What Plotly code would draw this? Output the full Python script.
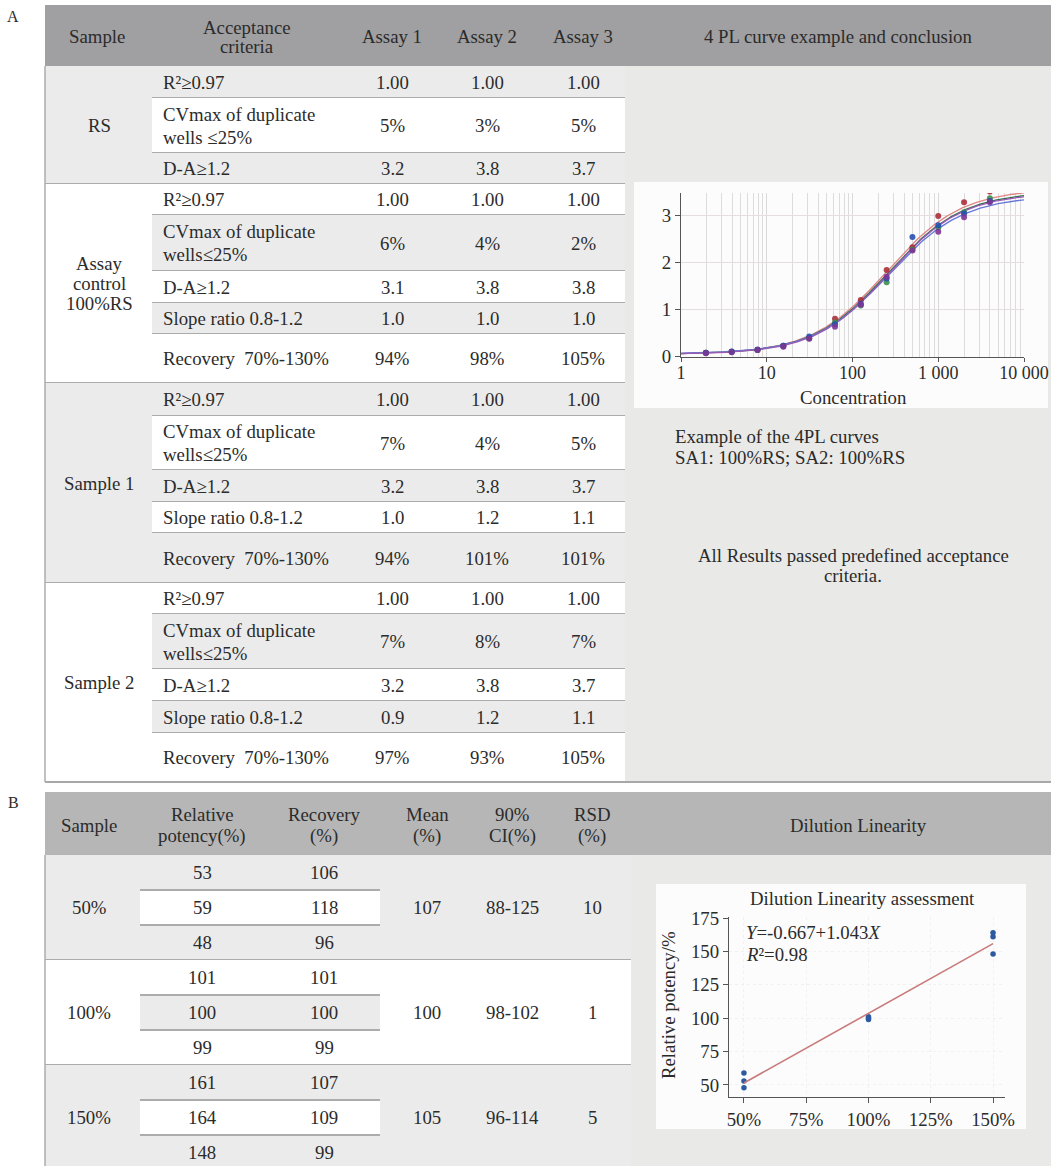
import numpy as np
import plotly.graph_objects as go

W, H = 1051, 1166
FONT = "Liberation Serif"
FS = 18.8
INK = "#2b2b2b"
HEAD_A = "#a09fa1"
HEAD_B = "#b6b6b6"
GRAY = "#ebebeb"
WHITE = "#ffffff"
PANEL = "#e9e9e7"
RULE = "#acacac"

# ---------------- data: panel A table ----------------
a_header = ["Sample", "Acceptance|criteria", "Assay 1", "Assay 2", "Assay 3"]
a_right_header = "4 PL curve example and conclusion"
a_samples = ["RS", "Assay|control|100%RS", "Sample 1", "Sample 2"]
a_criteria_rs = ["R²≥0.97", "CVmax of duplicate|wells ≤25%", "D-A≥1.2"]
a_criteria = ["R²≥0.97", "CVmax of duplicate|wells≤25%", "D-A≥1.2",
              "Slope ratio 0.8-1.2", "Recovery\u00a0 70%-130%"]
rs_values = [["1.00", "1.00", "1.00"], ["5%", "3%", "5%"], ["3.2", "3.8", "3.7"]]
ac_values = [["1.00", "1.00", "1.00"], ["6%", "4%", "2%"], ["3.1", "3.8", "3.8"],
             ["1.0", "1.0", "1.0"], ["94%", "98%", "105%"]]
s1_values = [["1.00", "1.00", "1.00"], ["7%", "4%", "5%"], ["3.2", "3.8", "3.7"],
             ["1.0", "1.2", "1.1"], ["94%", "101%", "101%"]]
s2_values = [["1.00", "1.00", "1.00"], ["7%", "8%", "7%"], ["3.2", "3.8", "3.7"],
             ["0.9", "1.2", "1.1"], ["97%", "93%", "105%"]]
a_note1 = "Example of the 4PL curves|SA1: 100%RS; SA2: 100%RS"
a_note2 = "All Results passed predefined acceptance|criteria."

# ---------------- data: 4PL example ----------------
conc = [1.95, 3.9, 7.8, 15.6, 31.25, 62.5, 125, 250, 500, 1000, 2000, 4000]
od_red = [0.07, 0.09, 0.13, 0.22, 0.38, 0.80, 1.20, 1.84, 2.33, 3.00, 3.29, 3.52]
od_green = [0.07, 0.09, 0.13, 0.21, 0.38, 0.72, 1.08, 1.58, 2.28, 2.75, 3.08, 3.38]
od_blue = [0.07, 0.10, 0.14, 0.22, 0.42, 0.68, 1.12, 1.66, 2.55, 2.80, 3.05, 3.32]
od_purple = [0.06, 0.08, 0.13, 0.20, 0.37, 0.63, 1.10, 1.70, 2.26, 2.66, 2.97, 3.29]
# fitted 4PL parameters (A, B, C, D) per curve
fit_red = (0.04, 1.0, 250, 3.58)
fit_green = (0.04, 1.0, 258, 3.52)
fit_blue = (0.05, 1.0, 262, 3.43)
fit_purple = (0.04, 1.02, 262, 3.49)
conc_ticks = [1, 10, 100, 1000, 10000]
conc_ticktext = ["1", "10", "100", "1 000", "10 000"]
od_ticks = [0, 1, 2, 3]

# ---------------- data: panel B table ----------------
b_header = ["Sample", "Relative|potency(%)", "Recovery|(%)", "Mean|(%)", "90%|CI(%)", "RSD|(%)"]
b_right_header = "Dilution Linearity"
b_samples = ["50%", "100%", "150%"]
b_levels = [50, 100, 150]
b_potency = [[53, 59, 48], [101, 100, 99], [161, 164, 148]]
b_recovery = [[106, 118, 96], [101, 100, 99], [107, 109, 99]]
b_mean = [107, 100, 105]
b_ci = ["88-125", "98-102", "96-114"]
b_rsd = [10, 1, 5]
reg_intercept = -0.667
reg_slope = 1.043
reg_r2 = 0.98
dil_xticks = [50, 75, 100, 125, 150]
dil_yticks = [50, 75, 100, 125, 150, 175]

# ---------------- helpers ----------------
shapes, annotations = [], []


def X(x):
    return x / W


def Y(y):
    return 1 - y / H


def rect(x0, y0, x1, y1, color):
    shapes.append(dict(type="rect", xref="paper", yref="paper", x0=X(x0), x1=X(x1),
                       y0=Y(y1), y1=Y(y0), fillcolor=color, line=dict(width=0), layer="below"))


def hline(x0, x1, y, color=RULE, w=2):
    shapes.append(dict(type="line", xref="paper", yref="paper", x0=X(x0), x1=X(x1),
                       y0=Y(y), y1=Y(y), line=dict(color=color, width=w), layer="below"))


def vline(x, y0, y1, color=RULE, w=1.5):
    shapes.append(dict(type="line", xref="paper", yref="paper", x0=X(x), x1=X(x),
                       y0=Y(y0), y1=Y(y1), line=dict(color=color, width=w), layer="below"))


def mtext(x, yc, s, size=FS, anchor="center", spacing=21, color=INK, angle=0):
    lines = str(s).split("|")
    n = len(lines)
    for i, ln in enumerate(lines):
        y = yc + (i - (n - 1) / 2) * spacing
        annotations.append(dict(xref="paper", yref="paper", x=X(x), y=Y(y), text=ln,
                                showarrow=False, xanchor=anchor, yanchor="middle",
                                textangle=angle,
                                font=dict(family=FONT, size=size, color=color)))


# ---------------- panel A table ----------------
mtext(13, 17, "A", size=16)
rect(45, 5, W, 66, HEAD_A)
a_col_x = [97, 247, 392, 487, 583]
for cx, t in zip(a_col_x, a_header):
    mtext(cx, 37, t, spacing=20)
mtext(838, 37, a_right_header)

sections = [
    (a_samples[0], a_criteria_rs, rs_values, [32, 55, 31]),
    (a_samples[1], a_criteria, ac_values, [31, 56, 32, 31, 49]),
    (a_samples[2], a_criteria, s1_values, [33, 54, 32, 31, 50]),
    (a_samples[3], a_criteria, s2_values, [31, 55, 32, 32, 49]),
]
y = 66
for si, (samp, crit, vals, hts) in enumerate(sections):
    top, bottom = y, y + sum(hts)
    sec_col = GRAY if si % 2 == 0 else WHITE
    alt_col = WHITE if sec_col == GRAY else GRAY
    rect(45, top, 625, bottom, sec_col)
    ry = top
    for ri, h in enumerate(hts):
        rect(152, ry, 625, ry + h, sec_col if ri % 2 == 0 else alt_col)
        mtext(161, ry + h / 2, crit[ri], anchor="left", spacing=23)
        for cx, v in zip(a_col_x[2:], vals[ri]):
            mtext(cx, ry + h / 2, v)
        if ri < len(hts) - 1:
            hline(152, 625, ry + h)
        ry += h
    mtext(99, (top + bottom) / 2, samp, spacing=20)
    if si < len(sections) - 1:
        hline(45, 625, bottom)
    y = bottom
a_bottom = y
rect(625, 66, W, a_bottom, PANEL)
hline(45, W, a_bottom, color="#a8a8a8", w=2)
vline(45, 66, a_bottom)

# 4PL chart box and notes
rect(634, 182, 1048, 408, "#fcfcfc")
mtext(853, 397, "Concentration")
mtext(673, 447, a_note1, anchor="left", spacing=20)
mtext(853, 565, a_note2, spacing=20)

# ---------------- panel B table ----------------
mtext(13, 802, "B", size=16)
rect(45, 792, W, 855, HEAD_B)
b_col_x = [89, 202, 324, 427, 512, 592]
for cx, t in zip(b_col_x, b_header):
    mtext(cx, 825, t, spacing=21)
mtext(858, 825, b_right_header)

row_h = 35
y = 855
for si, samp in enumerate(b_samples):
    top, bottom = y, y + 3 * row_h
    sec_col = GRAY if si % 2 == 0 else WHITE
    alt_col = WHITE if sec_col == GRAY else GRAY
    rect(45, top, 631, min(bottom, H), sec_col)
    rect(140, top + row_h, 380, top + 2 * row_h, alt_col)
    hline(140, 380, top + row_h)
    hline(140, 380, top + 2 * row_h)
    for ri in range(3):
        yc = top + row_h * ri + row_h / 2
        mtext(b_col_x[1], yc, b_potency[si][ri])
        mtext(b_col_x[2], yc, b_recovery[si][ri])
    mc = (top + bottom) / 2
    mtext(b_col_x[0], mc, samp)
    mtext(b_col_x[3], mc, b_mean[si])
    mtext(b_col_x[4], mc, b_ci[si])
    mtext(b_col_x[5], mc, b_rsd[si])
    if si < len(b_samples) - 1:
        hline(45, 631, bottom)
    y = bottom
rect(631, 855, W, H, PANEL)
vline(45, 855, H)

# dilution chart box and texts
rect(656, 884, 1026, 1129, "#fcfcfc")
mtext(862, 899, "Dilution Linearity assessment")
mtext(668, 1005, "Relative potency/%", angle=-90)
mtext(744, 932, f"<i>Y</i>={reg_intercept:.3f}+{reg_slope:.3f}<i>X</i>", anchor="left")
mtext(744, 954, f"<i>R</i>²={reg_r2:.2f}", anchor="left")

# ---------------- traces ----------------
fig = go.Figure()


def four_pl(x, p):
    a, b, c, d = p
    return d + (a - d) / (1 + (x / c) ** b)


xs = np.logspace(0, 4, 240)
series = [
    (od_red, fit_red, "#a8303a", "#e08585"),
    (od_green, fit_green, "#3d8f4f", "#2f6f45"),
    (od_blue, fit_blue, "#2850b0", "#6677d8"),
    (od_purple, fit_purple, "#7d3596", "#9a5ab5"),
]
for od, p, mcol, lcol in series:
    fig.add_trace(go.Scatter(x=xs, y=four_pl(xs, p), mode="lines",
                             line=dict(color=lcol, width=1.3), xaxis="x", yaxis="y",
                             hoverinfo="skip"))
for od, p, mcol, lcol in series:
    fig.add_trace(go.Scatter(x=conc, y=od, mode="markers",
                             marker=dict(color=mcol, size=6, opacity=0.9),
                             xaxis="x", yaxis="y"))

dx, dy = [], []
for lvl, vals in zip(b_levels, b_potency):
    dx += [lvl] * len(vals)
    dy += vals
fig.add_trace(go.Scatter(x=dx, y=dy, mode="markers",
                         marker=dict(color="#2c5aa0", size=5.5),
                         xaxis="x2", yaxis="y2"))
reg_x = np.array([b_levels[0], b_levels[-1]], dtype=float)
fig.add_trace(go.Scatter(x=reg_x, y=reg_intercept + reg_slope * reg_x, mode="lines",
                         line=dict(color="#c97b7b", width=1.6), xaxis="x2", yaxis="y2"))

minor_vals = [k * 10 ** d for d in range(4) for k in range(2, 10)]
tickfont = dict(family=FONT, size=FS, color=INK)

fig.update_layout(
    width=W, height=H, margin=dict(l=0, r=0, t=0, b=0, pad=0), autosize=False,
    paper_bgcolor="white", plot_bgcolor="rgba(0,0,0,0)",
    font=dict(family=FONT, size=FS, color=INK),
    showlegend=False, shapes=shapes, annotations=annotations,
    xaxis=dict(domain=[X(681), X(1024)], type="log", range=[0, 4], anchor="y",
               tickvals=conc_ticks, ticktext=conc_ticktext, ticks="outside", ticklen=4,
               tickcolor="#555", showline=True, linecolor="#555", linewidth=1.2,
               showgrid=True, gridcolor="#d9d9d9", gridwidth=1, zeroline=False,
               minor=dict(tickvals=minor_vals, showgrid=True, gridcolor="#dcdcdc",
                          gridwidth=1, ticks=""),
               ticklabelstandoff=-5, ticklabeloverflow="allow",
               tickfont=dict(family=FONT, size=18, color=INK), automargin=False),
    yaxis=dict(domain=[Y(357), Y(193)], range=[-0.02, 3.49], anchor="x",
               tickvals=od_ticks, ticks="outside", ticklen=5, tickcolor="#555",
               showline=True, linecolor="#555", linewidth=1.2, automargin=False,
               showgrid=True, gridcolor="#e4dede", zeroline=False, tickfont=tickfont),
    xaxis2=dict(domain=[X(729), X(1005)], range=[44, 154.8], anchor="y2",
                tickvals=dil_xticks, ticktext=[f"{v}%" for v in dil_xticks],
                ticks="outside", ticklen=5, tickcolor="#555", showline=True,
                linecolor="#555", linewidth=1.2, showgrid=True, gridcolor="#f1f1f1",
                griddash="dot", zeroline=False, tickfont=tickfont, automargin=False,
                ticklabeloverflow="allow"),
    yaxis2=dict(domain=[Y(1097), Y(917)], range=[41.0, 175.75], anchor="x2",
                tickvals=dil_yticks, ticks="outside", ticklen=5, tickcolor="#555",
                showline=True, linecolor="#555", linewidth=1.2, showgrid=True,
                gridcolor="#f1f1f1", griddash="dot", zeroline=False, tickfont=tickfont,
                automargin=False),
)

fig.write_html(
    "out.html",
    config={"displayModeBar": False},
    post_script=("document.documentElement.style.margin='0';"
                 "document.documentElement.style.overflow='hidden';"
                 "document.body.style.margin='0';"
                 "document.body.style.overflow='hidden';"),
)
